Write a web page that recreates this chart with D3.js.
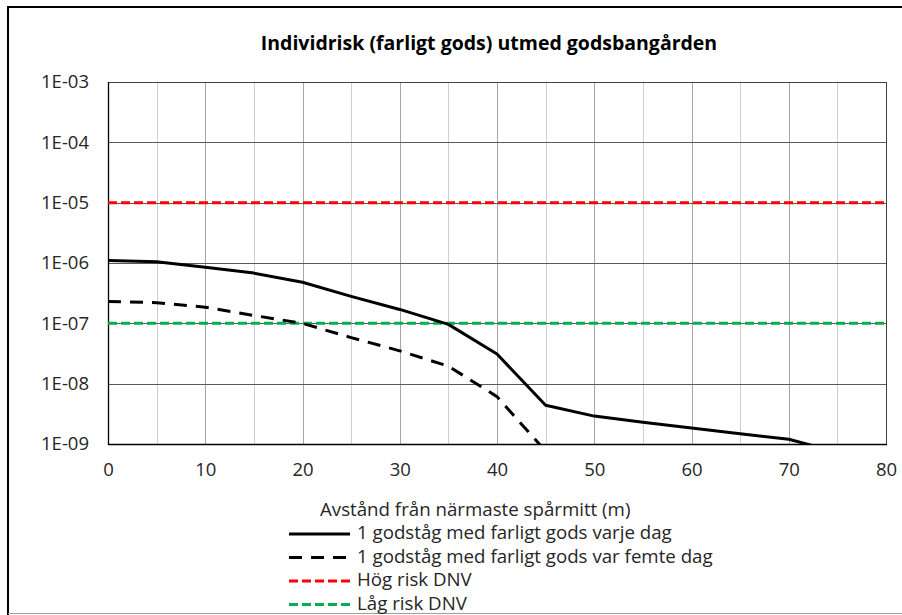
<!DOCTYPE html>
<html lang="sv">
<head>
<meta charset="UTF-8">
<title>Individrisk (farligt gods) utmed godsbangården</title>
<script src="https://d3js.org/d3.v7.min.js"></script>
<style>
    body { margin: 0; padding: 0; background: #fff; }
    svg { display: block; font-family: "Open Sans", "Liberation Sans", sans-serif; }
</style>
</head>
<body>
<svg id="chart" width="902" height="615"></svg>
<script>
    // distances (m) and individual risk per year
    const distance = [0, 5, 10, 15, 20, 25, 30, 35, 40, 45, 50, 55, 60, 65, 70, 75];
    const riskDaily = [1.1e-6, 1.05e-6, 8.5e-7, 6.8e-7, 4.8e-7, 2.8e-7, 1.7e-7, 9.6e-8,
                       3.1e-8, 4.4e-9, 2.9e-9, 2.3e-9, 1.84e-9, 1.48e-9, 1.2e-9, 7.3e-10];
    const distanceFifth = [0, 5, 10, 15, 20, 25, 30, 35, 40, 45];
    const riskFifth = [2.3e-7, 2.2e-7, 1.85e-7, 1.35e-7, 1.0e-7, 5.8e-8, 3.5e-8, 1.95e-8, 6.1e-9, 7.6e-10];
    const highRisk = 1e-5;
    const lowRisk = 1e-7;

    const xTicks = [0, 10, 20, 30, 40, 50, 60, 70, 80];
    const yTicks = [1e-9, 1e-8, 1e-7, 1e-6, 1e-5, 1e-4, 1e-3];

    const title = 'Individrisk (farligt gods) utmed godsbangården';
    const xTitle = 'Avstånd från närmaste spårmitt (m)';
    const legendLabels = [
        '1 godståg med farligt gods varje dag',
        '1 godståg med farligt gods var femte dag',
        'Hög risk DNV',
        'Låg risk DNV'
    ];

    const svg = d3.select('#chart');
    const plot = { left: 108, top: 82, right: 886, bottom: 444 };

    const x = d3.scaleLinear().domain([0, 80]).range([plot.left, plot.right]);
    const y = d3.scaleLog().domain([1e-9, 1e-3]).range([plot.bottom, plot.top]);

    // outer frame (picture is cropped on the right)
    svg.append('line').attr('x1', 7).attr('x2', 902).attr('y1', 7).attr('y2', 7)
        .attr('stroke', '#000').attr('stroke-width', 2);
    svg.append('line').attr('x1', 8).attr('x2', 8).attr('y1', 6).attr('y2', 615)
        .attr('stroke', '#000').attr('stroke-width', 2);
    svg.append('line').attr('x1', 8).attr('x2', 902).attr('y1', 613.5).attr('y2', 613.5)
        .attr('stroke', '#a0a0a0').attr('stroke-width', 1);

    // title
    svg.append('text')
        .attr('x', 489).attr('y', 45)
        .attr('text-anchor', 'middle').attr('dominant-baseline', 'middle')
        .attr('font-size', 19.5).attr('font-weight', 'bold').attr('fill', '#000')
        .text(title);

    // vertical gridlines every 5 m
    const gridX = d3.range(5, 80, 5);
    svg.append('g').selectAll('line')
        .data(gridX)
        .enter()
        .append('line')
        .attr('x1', d => Math.round(x(d)) + 0.5)
        .attr('x2', d => Math.round(x(d)) + 0.5)
        .attr('y1', plot.top).attr('y2', plot.bottom)
        .attr('stroke', d => d % 10 === 0 ? '#a6a6a6' : '#cfcfcf')
        .attr('stroke-width', 1);

    // horizontal gridlines at each decade
    svg.append('g').selectAll('line')
        .data(yTicks.slice(1, -1))
        .enter()
        .append('line')
        .attr('x1', plot.left).attr('x2', plot.right)
        .attr('y1', d => Math.round(y(d)) + 0.5)
        .attr('y2', d => Math.round(y(d)) + 0.5)
        .attr('stroke', '#5a5a5a')
        .attr('stroke-width', 1);

    // plot border
    svg.append('rect')
        .attr('x', plot.left + 0.5).attr('y', plot.top + 0.5)
        .attr('width', plot.right - plot.left).attr('height', plot.bottom - plot.top)
        .attr('fill', 'none').attr('stroke', '#404040').attr('stroke-width', 1);
    svg.append('line')
        .attr('x1', plot.left + 0.5).attr('x2', plot.left + 0.5)
        .attr('y1', plot.top).attr('y2', plot.bottom + 1)
        .attr('stroke', '#000').attr('stroke-width', 1.3);
    svg.append('line')
        .attr('x1', plot.left).attr('x2', plot.right + 1)
        .attr('y1', plot.bottom + 0.5).attr('y2', plot.bottom + 0.5)
        .attr('stroke', '#000').attr('stroke-width', 1.3);

    // axis labels
    const yAxis = d3.axisLeft(y)
        .tickValues(yTicks)
        .tickSize(0)
        .tickPadding(19)
        .tickFormat(d => '1E-' + String(Math.round(-Math.log10(d))).padStart(2, '0'));
    const gy = svg.append('g').attr('transform', `translate(${plot.left},0)`).call(yAxis);
    gy.select('.domain').remove();
    gy.selectAll('text').attr('font-size', 18.5).attr('fill', '#262626')
        .attr('font-family', '"Open Sans", sans-serif');

    const xAxis = d3.axisBottom(x)
        .tickValues(xTicks)
        .tickSize(0)
        .tickPadding(19);
    const gx = svg.append('g').attr('transform', `translate(0,${plot.bottom})`).call(xAxis);
    gx.select('.domain').remove();
    gx.selectAll('text').attr('font-size', 18.5).attr('fill', '#262626')
        .attr('font-family', '"Open Sans", sans-serif');

    // clip series to the plot area
    svg.append('clipPath').attr('id', 'plotClip')
        .append('rect')
        .attr('x', plot.left).attr('y', plot.top)
        .attr('width', plot.right - plot.left).attr('height', plot.bottom - plot.top);

    const series = svg.append('g').attr('clip-path', 'url(#plotClip)');

    // DNV criteria lines
    series.append('line')
        .attr('x1', x(0)).attr('x2', x(80))
        .attr('y1', y(highRisk)).attr('y2', y(highRisk))
        .attr('stroke', '#ff0000').attr('stroke-width', 3)
        .attr('stroke-dasharray', '9,4');
    series.append('line')
        .attr('x1', x(0)).attr('x2', x(80))
        .attr('y1', y(lowRisk)).attr('y2', y(lowRisk))
        .attr('stroke', '#00b050').attr('stroke-width', 3)
        .attr('stroke-dasharray', '9,4');

    const line = d3.line()
        .x(d => x(d[0]))
        .y(d => y(d[1]));

    series.append('path')
        .datum(d3.zip(distance, riskDaily))
        .attr('d', line)
        .attr('fill', 'none').attr('stroke', '#000').attr('stroke-width', 3)
        .attr('stroke-linejoin', 'round');

    series.append('path')
        .datum(d3.zip(distanceFifth, riskFifth))
        .attr('d', line)
        .attr('fill', 'none').attr('stroke', '#000').attr('stroke-width', 3)
        .attr('stroke-dasharray', '13,9');

    // x title and legend
    svg.append('text')
        .attr('x', 320).attr('y', 511)
        .attr('dominant-baseline', 'middle')
        .attr('font-size', 18.7).attr('fill', '#262626')
        .text(xTitle);

    const legendStyles = [
        { color: '#000', dash: null },
        { color: '#000', dash: '13,9' },
        { color: '#ff0000', dash: '9,4' },
        { color: '#00b050', dash: '9,4' }
    ];

    const legend = svg.append('g').selectAll('g')
        .data(legendLabels)
        .enter()
        .append('g')
        .attr('transform', (d, i) => `translate(289,${534 + i * 23.5})`);

    legend.append('line')
        .attr('x1', 0).attr('x2', 61).attr('y1', 0).attr('y2', 0)
        .attr('stroke', (d, i) => legendStyles[i].color)
        .attr('stroke-width', 3)
        .attr('stroke-dasharray', (d, i) => legendStyles[i].dash);

    legend.append('text')
        .attr('x', 68).attr('y', 0)
        .attr('dominant-baseline', 'middle')
        .attr('font-size', 18.7).attr('fill', '#262626')
        .text(d => d);
</script>
</body>
</html>
